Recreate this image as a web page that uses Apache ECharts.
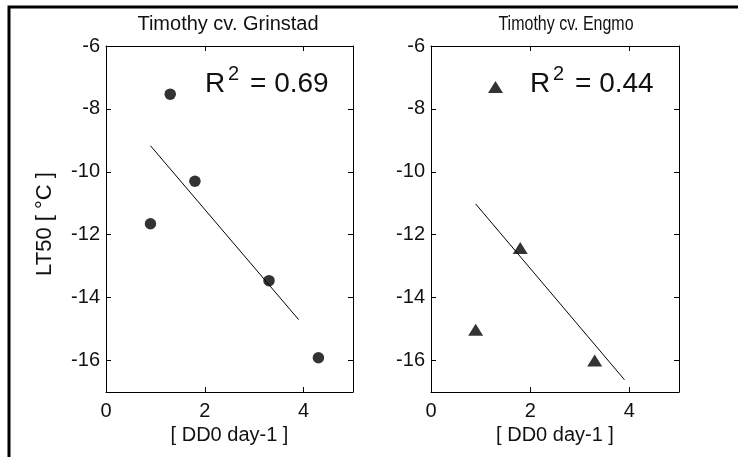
<!DOCTYPE html>
<html>
<head>
<meta charset="utf-8">
<script src="https://cdn.jsdelivr.net/npm/echarts@6/dist/echarts.min.js"></script>
<style>
html,body{margin:0;padding:0;background:#fff;}
#main{width:738px;height:457px;}
</style>
</head>
<body>
<div id="main"></div>
<script>
// ---- data ----
var titles = ['Timothy cv. Grinstad', 'Timothy cv. Engmo'];
var r2Labels = ['= 0.69', '= 0.44'];
var xTicks = [0, 2, 4];
var yTicks = [-16, -14, -12, -10, -8, -6];
var grinstadX = [0.9, 1.3, 1.8, 3.3, 4.3];
var grinstadY = [-11.65, -7.53, -10.3, -13.46, -15.91];
var engmoX = [0.9, 1.3, 1.8, 3.3];
var engmoY = [-15.02, -7.3, -12.42, -16.0];
var grinstadFitX = [0.9, 3.9];
var grinstadFitY = [-9.17, -14.7];
var engmoFitX = [0.9, 3.9];
var engmoFitY = [-11.02, -16.61];
var xName = '[ DD0 day-1 ]';
var yName = 'LT50 [ °C ]';

function pairs(xs, ys) { return xs.map(function (x, i) { return [x, ys[i]]; }); }

var FONT = '"Liberation Sans", Arial, Helvetica, sans-serif';
var TXT = '#111';

var chart = echarts.init(document.getElementById('main'), null, {renderer: 'canvas'});

function xAxisDef(gi, pos, labels) {
  return {
    type: 'value', gridIndex: gi, position: pos, min: 0, max: 5,
    name: labels ? xName : '', nameLocation: 'middle', nameGap: 30,
    nameTextStyle: {fontFamily: FONT, fontSize: 20, color: TXT},
    axisLine: {show: true, onZero: false, lineStyle: {color: '#000', width: 1}},
    axisTick: {show: true, inside: true, length: 5, customValues: xTicks, lineStyle: {color: '#000'}},
    axisLabel: {show: labels, customValues: xTicks, margin: 9, fontFamily: FONT, fontSize: 20, color: TXT},
    splitLine: {show: false}
  };
}
function yAxisDef(gi, pos, labels) {
  return {
    type: 'value', gridIndex: gi, position: pos, min: -17, max: -6,
    axisLine: {show: true, onZero: false, lineStyle: {color: '#000', width: 1}},
    axisTick: {show: true, inside: true, length: 5, customValues: yTicks, lineStyle: {color: '#000'}},
    axisLabel: {show: labels, customValues: yTicks, margin: 6, fontFamily: FONT, fontSize: 20, color: TXT},
    splitLine: {show: false}
  };
}

var option = {
  animation: false,
  backgroundColor: '#fff',
  grid: [
    {left: 106, top: 46, width: 247, height: 346},
    {left: 431, top: 46, width: 248, height: 346}
  ],
  xAxis: [
    xAxisDef(0, 'bottom', true), xAxisDef(0, 'top', false),
    xAxisDef(1, 'bottom', true), xAxisDef(1, 'top', false)
  ],
  yAxis: [
    yAxisDef(0, 'left', true), yAxisDef(0, 'right', false),
    yAxisDef(1, 'left', true), yAxisDef(1, 'right', false)
  ],
  series: [
    {type: 'line', xAxisIndex: 0, yAxisIndex: 0, data: pairs(grinstadFitX, grinstadFitY),
     symbol: 'none', lineStyle: {color: '#000', width: 1}, z: 2},
    {type: 'scatter', xAxisIndex: 0, yAxisIndex: 0, data: pairs(grinstadX, grinstadY),
     symbol: 'circle', symbolSize: 11.5, itemStyle: {color: '#000'}, z: 3},
    {type: 'line', xAxisIndex: 2, yAxisIndex: 2, data: pairs(engmoFitX, engmoFitY),
     symbol: 'none', lineStyle: {color: '#000', width: 1}, z: 2},
    {type: 'scatter', xAxisIndex: 2, yAxisIndex: 2, data: pairs(engmoX, engmoY),
     symbol: 'triangle', symbolSize: [15, 12], itemStyle: {color: '#000'}, z: 3}
  ],
  graphic: [
    {type: 'rect', shape: {x: 9, y: 7, width: 760, height: 480},
     style: {fill: 'none', stroke: '#000', lineWidth: 3}, silent: true},
    {type: 'text', x: 228, y: 24,
     style: {text: titles[0], font: '20px ' + FONT, fill: TXT, align: 'center', verticalAlign: 'middle'}},
    {type: 'text', x: 566, y: 24, scaleX: 0.8,
     style: {text: titles[1], font: '20px ' + FONT, fill: TXT, align: 'center', verticalAlign: 'middle'}},
    {type: 'text', x: 45, y: 224, rotation: Math.PI / 2,
     style: {text: yName, font: '22px ' + FONT, fill: TXT, align: 'center', verticalAlign: 'middle'}},
    {type: 'text', x: 205, y: 84, style: {text: 'R', font: '28px ' + FONT, fill: TXT, verticalAlign: 'middle'}},
    {type: 'text', x: 228, y: 74, style: {text: '2', font: '20px ' + FONT, fill: TXT, verticalAlign: 'middle'}},
    {type: 'text', x: 250, y: 84, style: {text: r2Labels[0], font: '28px ' + FONT, fill: TXT, verticalAlign: 'middle'}},
    {type: 'text', x: 530, y: 84, style: {text: 'R', font: '28px ' + FONT, fill: TXT, verticalAlign: 'middle'}},
    {type: 'text', x: 553, y: 74, style: {text: '2', font: '20px ' + FONT, fill: TXT, verticalAlign: 'middle'}},
    {type: 'text', x: 575, y: 84, style: {text: r2Labels[1], font: '28px ' + FONT, fill: TXT, verticalAlign: 'middle'}}
  ]
};
chart.setOption(option);
</script>
</body>
</html>
